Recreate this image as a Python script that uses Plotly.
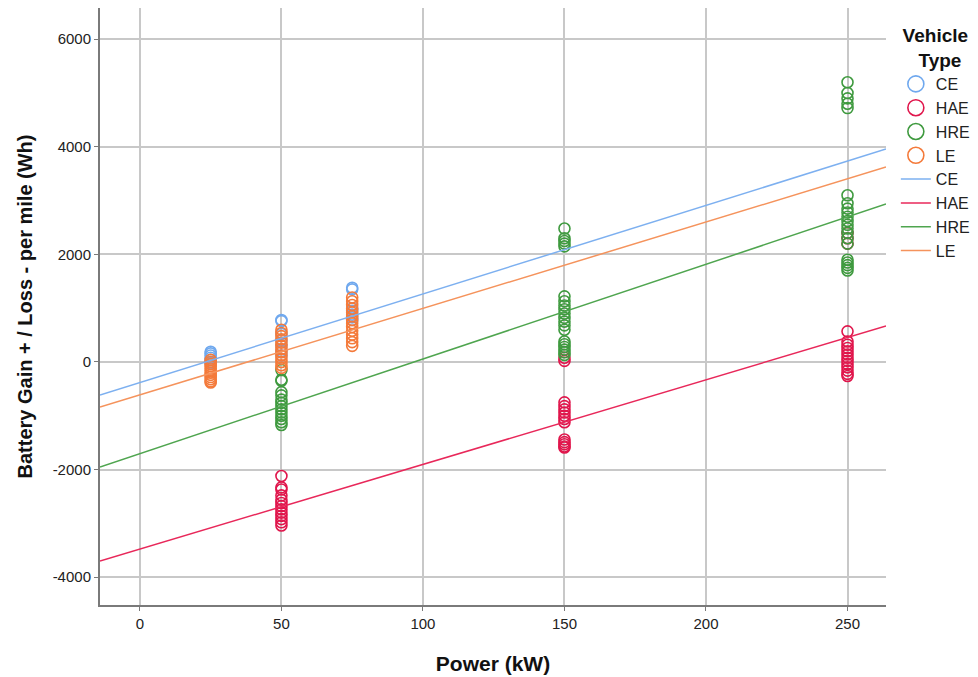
import plotly.graph_objects as go

# Battery gain/loss per mile versus power, by vehicle type
vehicle_types = ["CE", "HAE", "HRE", "LE"]
colors = {"CE": "#6FA8EE", "HAE": "#E0164C", "HRE": "#3F9A3F", "LE": "#F47A3A"}
line_colors = {"CE": "#7DB0F0", "HAE": "#E8285A", "HRE": "#4FA54F", "LE": "#F5935C"}

# Observations (power in kW, battery gain/loss in Wh per mile)
ce_power = [25] * 7 + [50] * 7 + [75] * 7
ce_wh = [190, 160, 120, 80, 40, 0, -30,
         780, 760, 520, 400, 300, 200, 120,
         1380, 1350, 1000, 950, 880, 830, 780]

hae_power = [50] * 13 + [150] * 14 + [250] * 16
hae_wh = [-2120, -2330, -2370, -2480, -2560, -2620, -2680, -2740, -2800, -2860, -2920, -2980, -3040,
          80, 20, -750, -820, -880, -940, -1000, -1060, -1120, -1440, -1490, -1530, -1570, -1590,
          2400, 2300, 2200, 570, 380, 320, 260, 200, 140, 80, 20, -40, -100, -160, -220, -260]

hre_power = [50] * 14 + [150] * 20 + [250] * 21
hre_wh = [-150, -330, -350, -560, -620, -700, -760, -820, -880, -940, -1000, -1060, -1120, -1170,
          2480, 2300, 2250, 2200, 2150,
          1220, 1130, 1050, 980, 900, 820, 750, 680, 600, 380, 330, 280, 230, 180, 130,
          5200, 5000, 4900, 4800, 4720,
          3100, 2950, 2850, 2780, 2700, 2620, 2550, 2480, 2400, 2300, 2200,
          1900, 1850, 1800, 1750, 1700]

le_power = [25] * 12 + [50] * 13 + [75] * 14
le_wh = [40, 0, -40, -80, -120, -160, -200, -240, -280, -320, -360, -380,
         600, 540, 480, 420, 360, 300, 240, 180, 120, 60, 0, -60, -110,
         1200, 1130, 1060, 990, 920, 850, 780, 720, 650, 580, 510, 440, 370, 300]

points = {
    "CE": (ce_power, ce_wh),
    "HAE": (hae_power, hae_wh),
    "HRE": (hre_power, hre_wh),
    "LE": (le_power, le_wh),
}

# Subgroup linear fit lines: intercept (Wh) and slope (Wh per kW)
fit_intercept = [-381, -3477, -1704, -610]
fit_slope = [16.46, 15.73, 17.60, 16.06]

x_range = [-14.1, 263.6]
y_range = [-4517, 6580]
x_ticks = [0, 50, 100, 150, 200, 250]
y_ticks = [-4000, -2000, 0, 2000, 4000, 6000]

font_family = "Liberation Sans, Arial, sans-serif"

fig = go.Figure()

for vt in vehicle_types:
    px_, wh = points[vt]
    fig.add_trace(go.Scatter(
        x=px_, y=wh, mode="markers", name=vt, showlegend=False,
        marker=dict(symbol="circle-open", size=11, color=colors[vt], line=dict(width=1.6)),
    ))
    # legend entry with a larger circle
    fig.add_trace(go.Scatter(
        x=[None], y=[None], mode="markers", name=vt, legendgroup="pts",
        marker=dict(symbol="circle-open", size=16, color=colors[vt], line=dict(width=1.6)),
    ))

for vt, b0, b1 in zip(vehicle_types, fit_intercept, fit_slope):
    xs = x_range
    ys = [b0 + b1 * v for v in xs]
    fig.add_trace(go.Scatter(
        x=xs, y=ys, mode="lines", name=vt, legendgroup="fit",
        line=dict(color=line_colors[vt], width=1.5),
    ))

fig.update_layout(
    width=978, height=677,
    margin=dict(l=100, r=92, t=8, b=72, autoexpand=False),
    paper_bgcolor="white", plot_bgcolor="white",
    font=dict(family=font_family, color="#222222"),
    showlegend=True,
    legend=dict(
        xref="container", yref="container",
        x=0.916, y=0.974, xanchor="left", yanchor="top",
        title=dict(text="<b>Vehicle<br>&nbsp;&nbsp;&nbsp;Type</b>", font=dict(size=19, color="#111111"), side="top center"),
        font=dict(size=16, color="#222222"),
        tracegroupgap=0, itemwidth=30,
        bgcolor="rgba(0,0,0,0)",
    ),
    xaxis=dict(
        range=x_range, tickvals=x_ticks, ticktext=[str(v) for v in x_ticks],
        showgrid=True, gridcolor="#C8C8C8", gridwidth=1.5,
        zeroline=False, showline=True, linecolor="#7A7A7A", linewidth=2,
        ticks="outside", ticklen=4, tickcolor="#7A7A7A",
        tickfont=dict(size=15, color="#222222"),
        title=dict(text="<b>Power (kW)</b>", font=dict(size=21, color="#111111"), standoff=25),
        automargin=False,
    ),
    yaxis=dict(
        range=y_range, tickvals=y_ticks, ticktext=[str(v) for v in y_ticks],
        showgrid=True, gridcolor="#C8C8C8", gridwidth=1.5,
        zeroline=False, showline=True, linecolor="#7A7A7A", linewidth=2,
        ticks="outside", ticklen=4, tickcolor="#7A7A7A",
        tickfont=dict(size=15, color="#222222"),
        title=dict(text="<b>Battery Gain + / Loss - per mile (Wh)</b>", font=dict(size=20, color="#111111"), standoff=15),
        automargin=False,
    ),
)

fig.write_html("out.html")
